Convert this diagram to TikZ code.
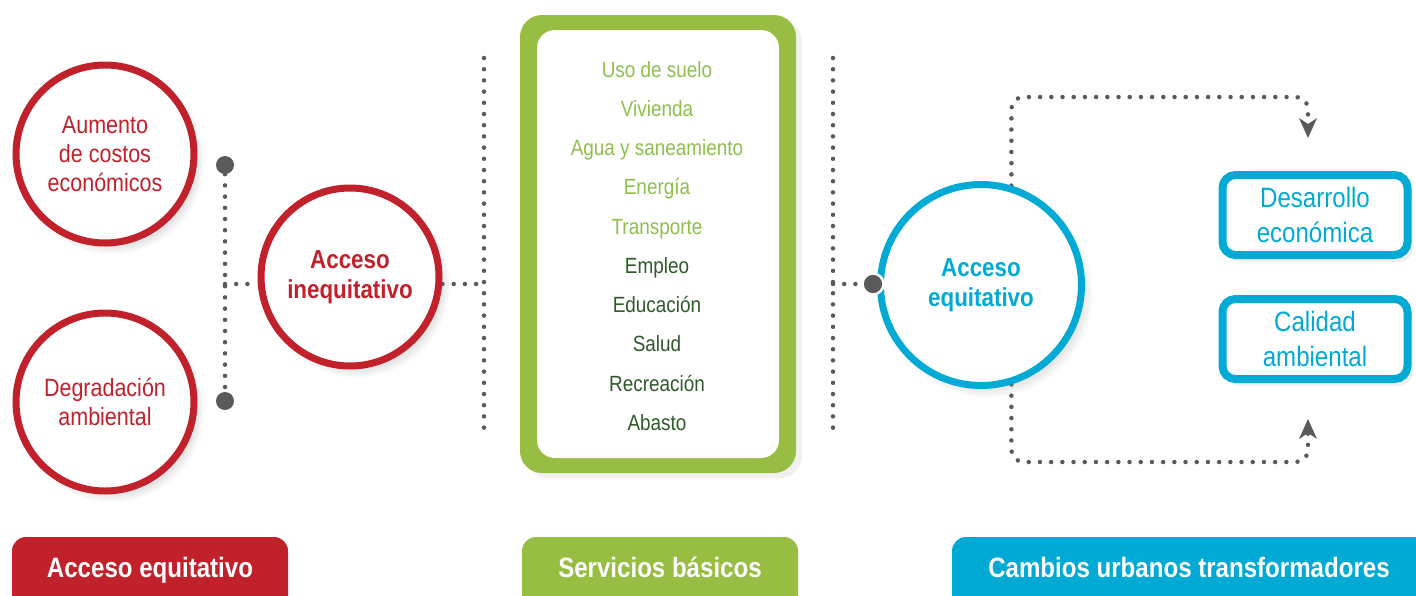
\documentclass[tikz,border=0pt]{standalone}
\usepackage{fontspec}
\setmainfont{Liberation Sans}[FakeStretch=0.86]
\usetikzlibrary{arrows.meta,shadows,backgrounds}
\definecolor{cred}{HTML}{C1212B}
\definecolor{cgreen}{HTML}{97BD42}
\definecolor{clgreen}{HTML}{8FBF4C}
\definecolor{cdgreen}{HTML}{2F5A2A}
\definecolor{cblue}{HTML}{00AAD4}
\definecolor{cgrey}{HTML}{5A5A5A}
\tikzset{
  softcirc/.style={circular drop shadow={shadow xshift=6pt, shadow yshift=-7pt, shadow scale=1.05, opacity=.3}},
  redcirc/.style={circle, draw=cred, line width=7pt, fill=white, minimum size=178pt, inner sep=0pt,
    text=cred, align=center, softcirc},
  regtext/.style={font=\fontsize{25}{29}\selectfont},
  boldtext/.style={font=\bfseries\fontsize{26}{30}\selectfont},
  gdot/.style={circle, fill=cgrey, minimum size=18pt, inner sep=0pt},
  dotline/.style={draw=cgrey, line width=4.5pt, line cap=round, dash pattern=on 0pt off 11.2pt},
  bluebox/.style={rectangle, draw=cblue, line width=8pt, fill=white, rounded corners=13pt,
    minimum width=185pt, minimum height=80pt, inner sep=0pt, text=cblue, align=center,
    font=\fontsize{28}{35}\selectfont,
    drop shadow={shadow xshift=5pt, shadow yshift=-7pt, opacity=.12}},
  tab/.style={rectangle, rounded corners=14pt, minimum height=90pt, inner sep=0pt},
  tabtext/.style={text=white, font=\bfseries\fontsize{28}{32}\selectfont, anchor=base},
  tip/.style={-{Stealth[length=20pt 0,width=18pt 0,inset=6pt 0,line width=0pt]}},
}
\begin{document}
\begin{tikzpicture}[x=1pt,y=-1pt]
\useasboundingbox (0,0) rectangle (1416,595);
% left circles
\node[redcirc, regtext] (c1) at (105,154) {Aumento\\de costos\\económicos};
\node[redcirc, regtext] (c2) at (105,402) {Degradación\\ambiental};
\node[redcirc, boldtext] (ci) at (350,277) {Acceso\\inequitativo};
\node[gdot] (dtop) at (225,165) {};
\node[gdot] (dbot) at (225,401) {};
\coordinate (j) at (225,284);
\coordinate (v1t) at (484,58);
\coordinate (v1b) at (484,430);
\coordinate (v1j) at (484,284);
\coordinate (v2t) at (833,58);
\coordinate (v2b) at (833,430);
\coordinate (v2j) at (833,284);
% green services box
\node[rectangle, fill=cgreen, rounded corners=22pt, minimum width=276pt, minimum height=458pt,
  drop shadow={shadow xshift=6pt, shadow yshift=-5pt, opacity=.12}] (gbox) at (658,244) {};
\node[rectangle, fill=white, rounded corners=18pt, minimum width=242pt, minimum height=428pt] (gin) at (658,244) {};
\node[align=center, font=\fontsize{22}{39.25}\selectfont] (svc) at (657,246)
 {\textcolor{clgreen}{Uso de suelo}\\
  \textcolor{clgreen}{Vivienda}\\
  \textcolor{clgreen}{Agua y saneamiento}\\
  \textcolor{clgreen}{Energía}\\
  \textcolor{clgreen}{Transporte}\\
  \textcolor{cdgreen}{Empleo}\\
  \textcolor{cdgreen}{Educación}\\
  \textcolor{cdgreen}{Salud}\\
  \textcolor{cdgreen}{Recreación}\\
  \textcolor{cdgreen}{Abasto}};
% blue circle
\node[circle, draw=cblue, line width=7pt, fill=white, minimum size=201pt, inner sep=0pt,
  text=cblue, align=center, boldtext, softcirc] (cb) at (981,285) {Acceso\\equitativo};
\node[circle, fill=cgrey, draw=white, line width=2.5pt, minimum size=21pt, inner sep=0pt] (db) at (873,284) {};
% blue boxes
\node[bluebox] (b1) at (1315,215) {Desarrollo\\económica};
\node[bluebox] (b2) at (1315,339) {Calidad\\ambiental};
\coordinate (ur) at (1308,97);
\coordinate (a1) at (1308,138);
\coordinate (lr) at (1308,462);
\coordinate (a2) at (1308,419);
% connectors on background
\begin{pgfonlayer}{background}
\draw[dotline] (dtop) -- (dbot);
\draw[dotline] (j) -- (j -| ci.west);
\draw[dotline] (j -| ci.east) -- (v1j);
\draw[dotline] (v1t) -- (v1b);
\draw[dotline] (v2t) -- (v2b);
\draw[dotline] (v2j) -- (db);
\draw[dotline, rounded corners=12pt, tip] (cb.73) |- (ur) -- (a1);
\draw[dotline, rounded corners=12pt, tip] (cb.-73) |- (lr) -- (a2);
\end{pgfonlayer}
% bottom tabs
\node[tab, fill=cred, minimum width=276pt] (t1) at (150,582) {};
\node[tabtext] (t1t) at (150,577) {Acceso equitativo};
\node[tab, fill=cgreen, minimum width=276pt] (t2) at (660,582) {};
\node[tabtext] (t2t) at (660,577) {Servicios básicos};
\node[tab, fill=cblue, minimum width=490pt] (t3) at (1197,582) {};
\node[tabtext] (t3t) at (1189,577) {Cambios urbanos transformadores};
\end{tikzpicture}
\end{document}
